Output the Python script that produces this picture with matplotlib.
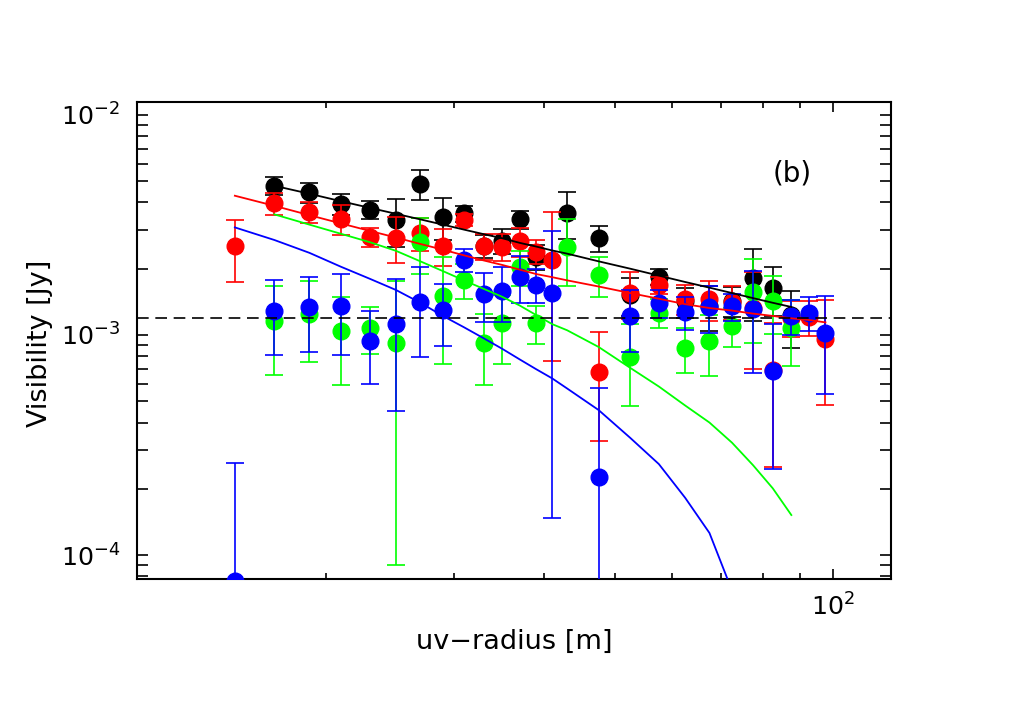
import numpy as np
import matplotlib
matplotlib.use("Agg")
import matplotlib.pyplot as plt
from matplotlib.ticker import LogLocator, NullFormatter, LogFormatterSciNotation

nan = np.nan
uv = [15, 17, 19, 21, 23, 25, 27, 29, 31, 33, 35, 37, 39, 41, 43,
      47.5, 52.5, 57.5, 62.5, 67.5, 72.5, 77.5, 82.5, 87.5, 92.5, 97.5]

vis_black = [nan, 4.77e-3, 4.45e-3, 3.93e-3, 3.70e-3, 3.33e-3, 4.84e-3, 3.43e-3, 3.57e-3, 2.54e-3,
             2.67e-3, 3.35e-3, 2.27e-3, nan, 3.59e-3, 2.75e-3, 1.52e-3, 1.84e-3, 1.42e-3, 1.35e-3,
             1.43e-3, 1.81e-3, 1.63e-3, 1.23e-3, nan, nan]
err_black = [nan, 0.44e-3, 0.47e-3, 0.43e-3, 0.34e-3, 0.82e-3, 0.75e-3, 0.74e-3, 0.30e-3, 0.30e-3,
             0.35e-3, 0.31e-3, 0.30e-3, nan, 0.85e-3, 0.36e-3, 0.30e-3, 0.15e-3, 0.22e-3, 0.31e-3,
             0.22e-3, 0.65e-3, 0.41e-3, 0.36e-3, nan, nan]

vis_red = [2.54e-3, 3.97e-3, 3.63e-3, 3.37e-3, 2.78e-3, 2.77e-3, 2.90e-3, 2.54e-3, 3.33e-3, 2.54e-3,
           2.51e-3, 2.67e-3, 2.39e-3, 2.18e-3, nan, 6.79e-4, 1.557e-3, 1.69e-3, 1.458e-3, 1.46e-3,
           1.417e-3, 1.32e-3, 6.9e-4, 1.2e-3, 1.211e-3, 9.59e-4]
err_red = [0.80e-3, 0.45e-3, 0.40e-3, 0.54e-3, 0.27e-3, 0.65e-3, 0.50e-3, 0.48e-3, 0.20e-3, 0.34e-3,
           0.35e-3, 0.40e-3, 0.30e-3, 1.42e-3, nan, 0.35e-3, 0.38e-3, 0.15e-3, 0.22e-3, 0.30e-3,
           0.25e-3, 0.62e-3, 0.44e-3, 0.22e-3, 0.22e-3, 0.48e-3]

vis_green = [nan, 1.16e-3, 1.25e-3, 1.04e-3, 1.08e-3, 9.2e-4, 2.65e-3, 1.50e-3, 1.77e-3, 9.2e-4,
             1.13e-3, 2.03e-3, 1.13e-3, nan, 2.52e-3, 1.87e-3, 7.97e-4, 1.26e-3, 8.73e-4, 9.39e-4,
             1.10e-3, 1.57e-3, 1.43e-3, 1.08e-3, nan, nan]
err_green = [nan, 0.50e-3, 0.50e-3, 0.45e-3, 0.26e-3, 0.83e-3, 0.75e-3, 0.76e-3, 0.32e-3, 0.33e-3,
             0.39e-3, 0.37e-3, 0.22e-3, nan, 0.85e-3, 0.38e-3, 0.32e-3, 0.19e-3, 0.20e-3, 0.29e-3,
             0.22e-3, 0.65e-3, 0.42e-3, 0.36e-3, nan, nan]

vis_blue = [7.6e-5, 1.29e-3, 1.34e-3, 1.35e-3, 9.39e-4, 1.12e-3, 1.41e-3, 1.30e-3, 2.19e-3, 1.53e-3,
            1.59e-3, 1.84e-3, 1.69e-3, 1.557e-3, nan, 2.27e-4, 1.22e-3, 1.40e-3, 1.27e-3, 1.34e-3,
            1.35e-3, 1.31e-3, 6.86e-4, 1.22e-3, 1.26e-3, 1.02e-3]
err_blue = [1.87e-4, 0.48e-3, 0.50e-3, 0.54e-3, 0.34e-3, 0.67e-3, 0.62e-3, 0.41e-3, 0.26e-3, 0.38e-3,
            0.45e-3, 0.45e-3, 0.30e-3, 1.41e-3, nan, 0.35e-3, 0.38e-3, 0.20e-3, 0.22e-3, 0.32e-3,
            0.19e-3, 0.64e-3, 0.44e-3, 0.22e-3, 0.22e-3, 0.48e-3]

# model curves
mod_black_x = [17, 19, 21, 23, 25, 27, 29, 31, 33, 35, 37, 39, 41, 43, 47.5, 52.5, 57.5, 62.5, 67.5, 72.5, 77.5, 82.5, 87.5]
mod_black_y = [4.76e-3, 4.38e-3, 4.05e-3, 3.78e-3, 3.55e-3, 3.35e-3, 3.17e-3, 3.01e-3, 2.87e-3, 2.75e-3,
               2.62e-3, 2.52e-3, 2.42e-3, 2.34e-3, 2.16e-3, 2.0e-3, 1.86e-3, 1.74e-3, 1.64e-3, 1.55e-3,
               1.47e-3, 1.40e-3, 1.34e-3]
mod_red_x = [15, 17, 19, 21, 23, 25, 27, 29, 31, 33, 35, 37, 39, 41, 43, 47.5, 52.5, 57.5, 62.5, 67.5, 72.5, 77.5, 82.5, 87.5, 92.5, 97.5]
mod_red_y = [4.29e-3, 3.86e-3, 3.50e-3, 3.21e-3, 2.97e-3, 2.77e-3, 2.59e-3, 2.44e-3, 2.30e-3, 2.18e-3,
             2.08e-3, 1.98e-3, 1.89e-3, 1.83e-3, 1.77e-3, 1.66e-3, 1.55e-3, 1.46e-3, 1.38e-3, 1.325e-3,
             1.29e-3, 1.25e-3, 1.22e-3, 1.19e-3, 1.17e-3, 1.14e-3]
mod_green_x = [17, 19, 21, 23, 25, 27, 29, 31, 33, 35, 37, 39, 41, 43, 47.5, 52.5, 57.5, 62.5, 67.5, 72.5, 77.5, 82.5, 87.5]
mod_green_y = [3.53e-3, 3.17e-3, 2.88e-3, 2.64e-3, 2.41e-3, 2.16e-3, 1.95e-3, 1.77e-3, 1.62e-3, 1.49e-3,
               1.36e-3, 1.23e-3, 1.12e-3, 1.05e-3, 8.82e-4, 7.09e-4, 5.83e-4, 4.78e-4, 4.0e-4, 3.24e-4,
               2.56e-4, 2.01e-4, 1.52e-4]
mod_blue_x = [15, 17, 19, 21, 23, 25, 27, 29, 31, 33, 35, 37, 39, 41, 43, 47.5, 52.5, 57.5, 62.5, 67.5, 72.5]
mod_blue_y = [3.08e-3, 2.70e-3, 2.36e-3, 2.04e-3, 1.80e-3, 1.60e-3, 1.40e-3, 1.22e-3, 1.084e-3, 9.66e-4,
              8.65e-4, 7.74e-4, 6.98e-4, 6.35e-4, 5.71e-4, 4.56e-4, 3.41e-4, 2.59e-4, 1.82e-4, 1.26e-4, 6.9e-5]

noise_level = 1.2e-3
panel_label = "(b)"
xlabel = "uv\u2212radius [m]"
ylabel = "Visibility [Jy]"
xlim = (11.0, 120.0)
ylim = (7.76e-5, 1.14e-2)

plt.rcParams['font.family'] = ['DejaVu Sans']
plt.rcParams['mathtext.default'] = 'regular'

fig = plt.figure(figsize=(10.25, 7.17), dpi=100)
ax = fig.add_axes([137/1025, 1 - 579.3/717, (891-137)/1025, (579.3-102.3)/717])
ax.set_xscale('log')
ax.set_yscale('log')
ax.set_xlim(*xlim)
ax.set_ylim(*ylim)

series = [(vis_black, err_black, 'black'), (vis_red, err_red, 'red'),
          (vis_green, err_green, '#00ff00'), (vis_blue, err_blue, 'blue')]
for i, (v, e, c) in enumerate(series):
    ax.errorbar(uv, v, yerr=e, fmt='o', color=c, ms=12, mec=c,
                elinewidth=1.2, capsize=6.2, capthick=1.2, zorder=3 + i)

for mx, my, c in [(mod_black_x, mod_black_y, 'black'), (mod_red_x, mod_red_y, 'red'),
                  (mod_green_x, mod_green_y, '#00ff00'), (mod_blue_x, mod_blue_y, 'blue')]:
    ax.plot(mx, my, color=c, lw=1.3, zorder=8)

ax.axhline(noise_level, color='black', lw=1.2, ls=(0, (7, 4)), zorder=9)

ax.text(0.869, 0.851, panel_label, transform=ax.transAxes, fontsize=20,
        ha='center', va='center')

fig.text(514/1025, 1 - 642/717, xlabel, fontsize=19.5, ha='center', va='center')
fig.text(40.5/1025, 1 - 343.5/717, ylabel, fontsize=19.5, ha='center', va='center',
         rotation=90)

ax.xaxis.set_major_locator(LogLocator(base=10, numticks=10))
ax.xaxis.set_minor_locator(LogLocator(base=10, subs=np.arange(2, 10), numticks=20))
ax.yaxis.set_major_locator(LogLocator(base=10, numticks=10))
ax.yaxis.set_minor_locator(LogLocator(base=10, subs=np.arange(2, 10), numticks=20))
ax.xaxis.set_minor_formatter(NullFormatter())
ax.yaxis.set_minor_formatter(NullFormatter())
ax.xaxis.set_major_formatter(LogFormatterSciNotation())
ax.yaxis.set_major_formatter(LogFormatterSciNotation())

ax.tick_params(which='both', direction='in', top=True, right=True, width=1.2, labelsize=18.3)
ax.tick_params(axis='x', which='major', length=7.5, pad=10)
ax.tick_params(axis='x', which='minor', length=4.5)
ax.tick_params(axis='y', which='major', length=7.7, pad=12)
ax.tick_params(axis='y', which='minor', length=7.7)
for s in ax.spines.values():
    s.set_linewidth(1.5)

fig.savefig('out.png', dpi=100)
